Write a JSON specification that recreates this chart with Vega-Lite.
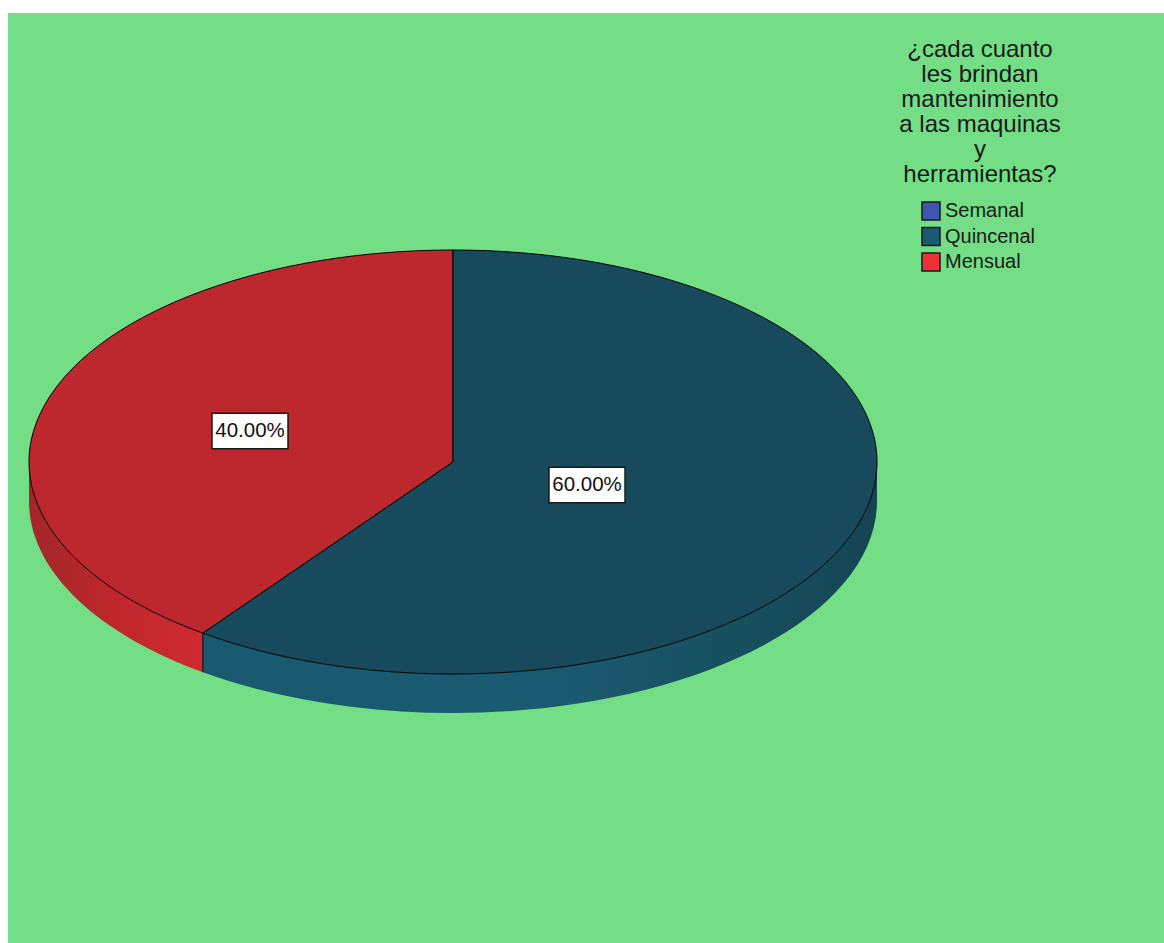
{
"$schema":"https://vega.github.io/schema/vega-lite/v6.json",
"width":1156,"height":930,
"autosize":{"type":"none"},
"padding":{"left":8,"top":13,"right":0,"bottom":0},
"background":"#ffffff",
"config":{"view":{"fill":"#73de85","stroke":null}},
"title":{"text":["¿cada cuanto","les brindan","mantenimiento","a las maquinas","y","herramientas?"],"orient":"top","anchor":"start","frame":"group","align":"center","baseline":"top","dx":972,"dy":178,"font":"Liberation Sans","fontSize":24,"fontWeight":"normal","color":"#1a1a1a","lineHeight":25},
"data":{"values":[
{"frecuencia":"Semanal","porcentaje":0},
{"frecuencia":"Quincenal","porcentaje":0.6},
{"frecuencia":"Mensual","porcentaje":0.4}
]},
"encoding":{
"x":{"datum":0,"type":"quantitative","scale":{"domain":[-445,711],"nice":false,"zero":false},"axis":null},
"y":{"datum":0,"type":"quantitative","scale":{"domain":[-481,449],"nice":false,"zero":false},"axis":null}
},
"layer":[
{"transform":[{"filter":"datum.frecuencia==='Mensual'"}],
"mark":{"type":"point","filled":true,"opacity":1,"size":719104,"strokeWidth":0,
"fill":{"gradient":"linear","x1":0,"y1":0,"x2":1,"y2":0,"stops":[{"offset":0,"color":"#a32729"},{"offset":0.45,"color":"#bd272c"},{"offset":1,"color":"#cf2a30"}]},
"shape":"M-1 0 A1 0.5 0 0 0 -0.59 0.4037 L-0.59 0.4957 A1 0.5 0 0 1 -1 0.092 Z"}},
{"transform":[{"filter":"datum.frecuencia==='Quincenal'"}],
"mark":{"type":"point","filled":true,"opacity":1,"size":719104,"strokeWidth":0,
"fill":{"gradient":"linear","x1":0,"y1":0,"x2":1,"y2":0,"stops":[{"offset":0,"color":"#1a5a70"},{"offset":0.5,"color":"#1a5a72"},{"offset":0.8,"color":"#17505f"},{"offset":1,"color":"#154454"}]},
"shape":"M-0.59 0.4037 A1 0.5 0 0 0 1 0 L1 0.092 A1 0.5 0 0 1 -0.59 0.4957 Z"}},
{"transform":[{"filter":"datum.frecuencia==='Mensual'"}],
"mark":{"type":"point","filled":false,"opacity":1,"size":719104,"stroke":"#000000","strokeWidth":1,
"shape":"M-0.59 0.4037 L-0.59 0.4957"}},
{"transform":[{"filter":"datum.frecuencia==='Mensual'"}],
"mark":{"type":"point","filled":true,"opacity":1,"size":719104,"fill":"#bc282d","stroke":"#000000","strokeWidth":1,
"shape":"M0 0 L-0.59 0.4037 A1 0.5 0 0 1 0 -0.5 Z"}},
{"transform":[{"filter":"datum.frecuencia==='Quincenal'"}],
"mark":{"type":"point","filled":true,"opacity":1,"size":719104,"fill":"#174a5d","stroke":"#000000","strokeWidth":1,
"shape":"M0 0 L0 -0.5 A1 0.5 0 1 1 -0.59 0.4037 Z"}},
{"transform":[{"filter":"datum.frecuencia==='Mensual'"}],
"encoding":{"x":{"datum":-203,"type":"quantitative"},"y":{"datum":31,"type":"quantitative"}},
"layer":[
{"mark":{"type":"point","filled":true,"opacity":1,"size":5776,"fill":"#ffffff","stroke":"#1a1a1a","strokeWidth":1.5,"shape":"M-1 -0.47 H1 V0.47 H-1 Z"}},
{"mark":{"type":"text","font":"Liberation Sans","fontSize":20.5,"color":"#111111"},"encoding":{"text":{"field":"porcentaje","type":"quantitative","format":".2%"}}}
]},
{"transform":[{"filter":"datum.frecuencia==='Quincenal'"}],
"encoding":{"x":{"datum":134,"type":"quantitative"},"y":{"datum":-23,"type":"quantitative"}},
"layer":[
{"mark":{"type":"point","filled":true,"opacity":1,"size":5776,"fill":"#ffffff","stroke":"#1a1a1a","strokeWidth":1.5,"shape":"M-1 -0.47 H1 V0.47 H-1 Z"}},
{"mark":{"type":"text","font":"Liberation Sans","fontSize":20.5,"color":"#111111"},"encoding":{"text":{"field":"porcentaje","type":"quantitative","format":".2%"}}}
]},
{"mark":{"type":"point","filled":true,"size":0,"opacity":0},
"encoding":{"color":{"field":"frecuencia","type":"nominal",
"scale":{"domain":["Semanal","Quincenal","Mensual"],"range":["#3f55b0","#1a5a72","#f03038"]},
"legend":{"title":null,"orient":"none","legendX":913,"legendY":188,"symbolType":"square","symbolSize":324,"symbolOpacity":1,"symbolStrokeColor":"#1a1a1a","symbolStrokeWidth":1.5,"labelFont":"Liberation Sans","labelFontSize":20,"labelColor":"#1a1a1a","labelOffset":4,"rowPadding":1.5,"labelLimit":200}}}}
]
}
